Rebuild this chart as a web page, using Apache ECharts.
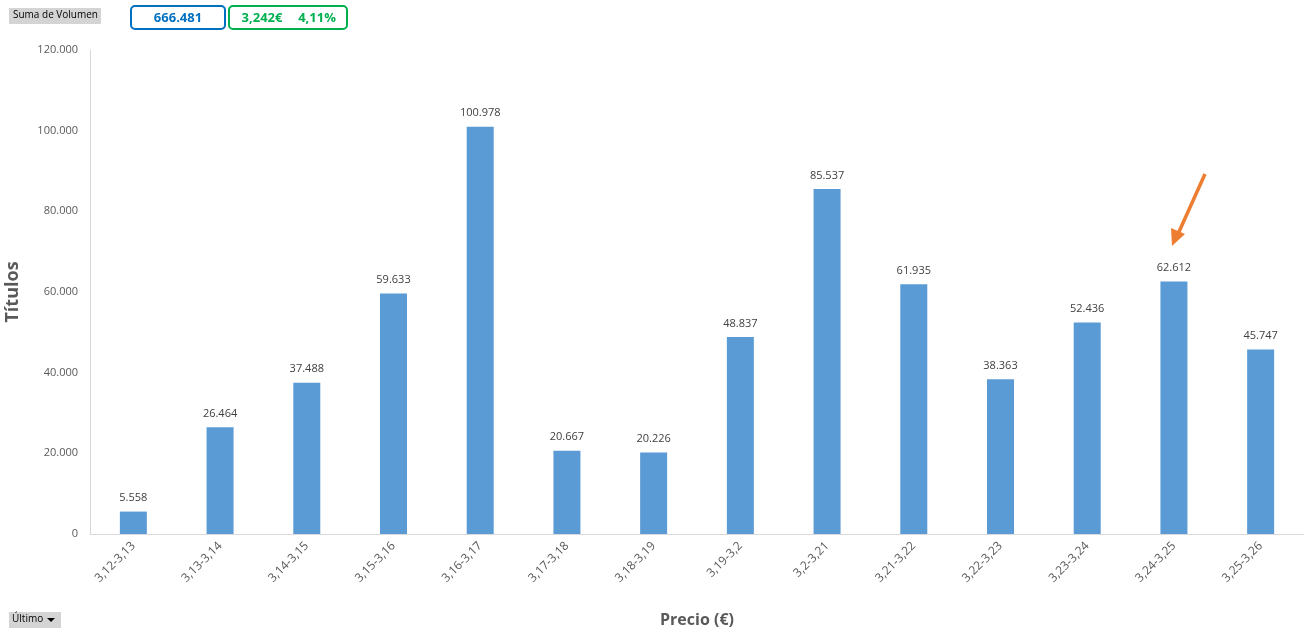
<!DOCTYPE html>
<html>
<head>
<meta charset="utf-8">
<script src="https://cdn.jsdelivr.net/npm/echarts@6/dist/echarts.min.js"></script>
<style>
  html, body { margin: 0; padding: 0; background: #fff; }
  #chart { width: 1304px; height: 636px; }
</style>
</head>
<body>
<div id="chart"></div>
<script>
var categories = ['3,12-3,13', '3,13-3,14', '3,14-3,15', '3,15-3,16', '3,16-3,17', '3,17-3,18', '3,18-3,19',
    '3,19-3,2', '3,2-3,21', '3,21-3,22', '3,22-3,23', '3,23-3,24', '3,24-3,25', '3,25-3,26'];
var volumen = [5558, 26464, 37488, 59633, 100978, 20667, 20226, 48837, 85537, 61935, 38363, 52436, 62612, 45747];
var totalVolumen = '666.481';
var ultimoPrecio = '3,242€';
var variacion = '4,11%';

var font = 'Open Sans, Liberation Sans, sans-serif';

function miles(v) {
    return String(v).replace(/\B(?=(\d{3})+(?!\d))/g, '.');
}

var chart = echarts.init(document.getElementById('chart'));
chart.setOption({
    animation: false,
    grid: { left: 90, right: 0, top: 50, bottom: 102, containLabel: false, outerBoundsMode: 'none' },
    xAxis: {
        type: 'category',
        data: categories,
        name: 'Precio (€)',
        nameLocation: 'middle',
        nameGap: 78,
        nameTextStyle: { fontSize: 16, fontWeight: 'bold', color: '#595959', fontFamily: font },
        axisLine: { lineStyle: { color: '#d9d9d9' } },
        axisTick: { show: false },
        axisLabel: { rotate: 45, fontSize: 12, color: '#595959', fontFamily: font, margin: 10, interval: 0 }
    },
    yAxis: {
        type: 'value',
        min: 0,
        max: 120000,
        interval: 20000,
        name: 'Títulos',
        nameLocation: 'middle',
        nameGap: 68,
        nameTextStyle: { fontSize: 18, fontWeight: 'bold', color: '#595959', fontFamily: font },
        axisLine: { show: true, lineStyle: { color: '#d9d9d9' } },
        axisTick: { show: false },
        splitLine: { show: false },
        axisLabel: { fontSize: 11, color: '#595959', fontFamily: font, margin: 12, formatter: miles }
    },
    series: [{
        type: 'bar',
        data: volumen,
        barWidth: 27,
        itemStyle: { color: '#5b9bd5' },
        label: {
            show: true,
            position: 'top',
            distance: 8,
            fontSize: 11,
            color: '#404040',
            fontFamily: font,
            formatter: function (p) { return miles(p.value); }
        }
    }],
    graphic: [
        { type: 'rect', shape: { x: 9, y: 8, width: 92, height: 16 }, style: { fill: '#d4d4d4' } },
        { type: 'text', x: 13, y: 10, style: { text: 'Suma de Volumen', fontSize: 10, fill: '#000', fontFamily: font } },
        { type: 'rect', shape: { x: 131, y: 6, width: 94, height: 23, r: 4 }, style: { fill: '#fff', stroke: '#0070c0', lineWidth: 2 } },
        { type: 'text', x: 178, y: 18, style: { text: totalVolumen, fontSize: 13, fontWeight: 'bold', fill: '#0070c0', fontFamily: font, align: 'center', verticalAlign: 'middle' } },
        { type: 'rect', shape: { x: 229, y: 6, width: 118, height: 23, r: 4 }, style: { fill: '#fff', stroke: '#00b050', lineWidth: 2 } },
        { type: 'text', x: 262, y: 18, style: { text: ultimoPrecio, fontSize: 13, fontWeight: 'bold', fill: '#00b050', fontFamily: font, align: 'center', verticalAlign: 'middle' } },
        { type: 'text', x: 317, y: 18, style: { text: variacion, fontSize: 13, fontWeight: 'bold', fill: '#00b050', fontFamily: font, align: 'center', verticalAlign: 'middle' } },
        { type: 'rect', shape: { x: 9, y: 612, width: 52, height: 16 }, style: { fill: '#d4d4d4' } },
        { type: 'text', x: 12, y: 614, style: { text: 'Último', fontSize: 10, fill: '#000', fontFamily: font } },
        { type: 'polygon', shape: { points: [[47, 618], [55, 618], [51, 622]] }, style: { fill: '#000' } },
        // flecha naranja
        { type: 'line', shape: { x1: 1205, y1: 174, x2: 1178, y2: 234 }, style: { stroke: '#ed7d31', lineWidth: 3.5 } },
        { type: 'polygon', shape: { points: [[1172, 246], [1171, 228], [1185, 234]] }, style: { fill: '#ed7d31' } }
    ]
});
</script>
</body>
</html>
